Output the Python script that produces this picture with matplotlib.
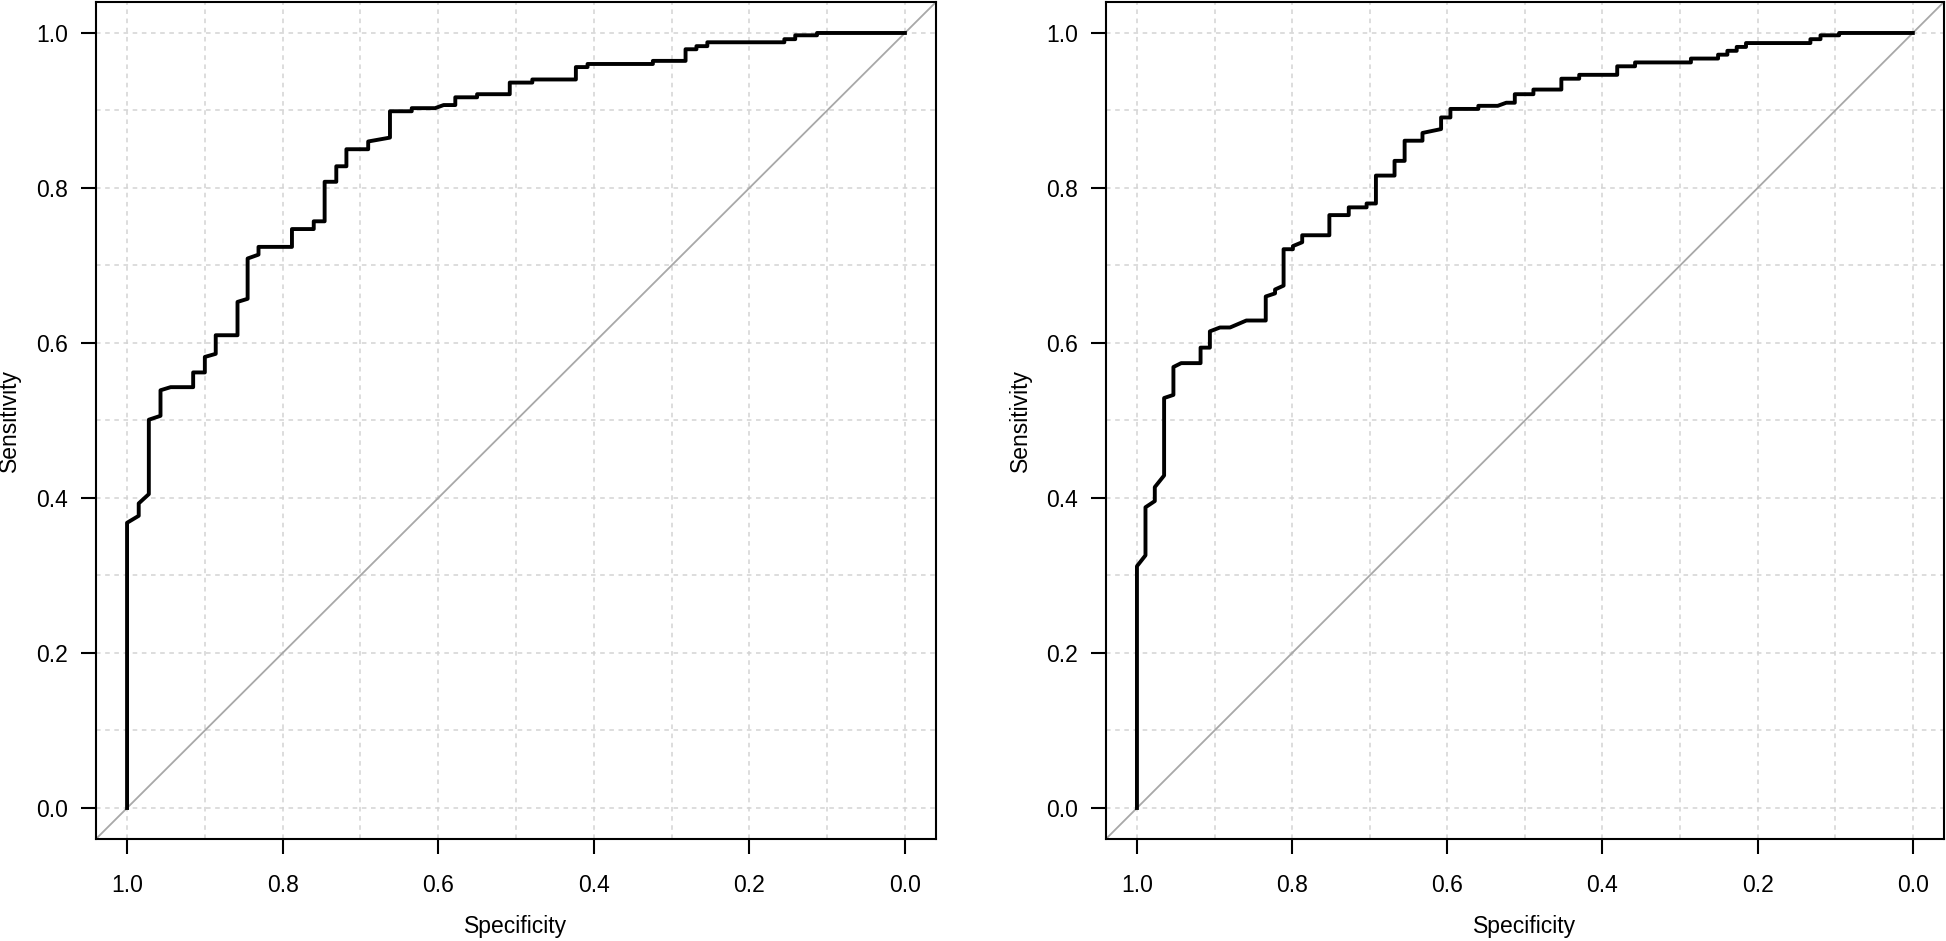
import matplotlib
matplotlib.use("Agg")
import matplotlib.pyplot as plt
import numpy as np

plt.rcParams['font.family'] = ['Liberation Sans', 'DejaVu Sans']

# ----- ROC curve vertices (specificity, sensitivity) -----
spec_left = [1.0, 1.0, 0.985, 0.985, 0.972, 0.972, 0.957, 0.957, 0.944, 0.915,
             0.915, 0.900, 0.900, 0.886, 0.886, 0.858, 0.858, 0.845, 0.845, 0.831,
             0.831, 0.788, 0.788, 0.760, 0.760, 0.746, 0.746, 0.731, 0.731, 0.718,
             0.718, 0.690, 0.690, 0.662, 0.662, 0.634, 0.634, 0.604, 0.593, 0.578,
             0.578, 0.550, 0.550, 0.508, 0.508, 0.479, 0.479, 0.423, 0.423, 0.408,
             0.408, 0.324, 0.324, 0.282, 0.282, 0.268, 0.268, 0.254, 0.254, 0.155,
             0.155, 0.141, 0.141, 0.113, 0.113, 0.0]
sens_left = [0.0, 0.368, 0.377, 0.393, 0.405, 0.501, 0.506, 0.539, 0.543, 0.543,
             0.562, 0.562, 0.582, 0.586, 0.610, 0.610, 0.653, 0.657, 0.709, 0.714,
             0.724, 0.724, 0.747, 0.747, 0.757, 0.757, 0.808, 0.808, 0.828, 0.828,
             0.850, 0.850, 0.860, 0.865, 0.899, 0.899, 0.903, 0.903, 0.907, 0.907,
             0.917, 0.917, 0.921, 0.921, 0.936, 0.936, 0.940, 0.940, 0.956, 0.956,
             0.960, 0.960, 0.964, 0.964, 0.979, 0.979, 0.983, 0.983, 0.988, 0.988,
             0.992, 0.992, 0.997, 0.997, 1.0, 1.0]

spec_right = [1.0, 1.0, 0.989, 0.989, 0.977, 0.977, 0.965, 0.965, 0.953, 0.953,
              0.943, 0.918, 0.918, 0.906, 0.906, 0.893, 0.880, 0.859, 0.834, 0.834,
              0.822, 0.822, 0.811, 0.811, 0.799, 0.799, 0.787, 0.787, 0.752, 0.752,
              0.727, 0.727, 0.704, 0.704, 0.692, 0.692, 0.668, 0.668, 0.655, 0.655,
              0.632, 0.632, 0.608, 0.608, 0.596, 0.596, 0.560, 0.560, 0.535, 0.524,
              0.513, 0.513, 0.489, 0.489, 0.453, 0.453, 0.430, 0.430, 0.381, 0.381,
              0.358, 0.358, 0.286, 0.286, 0.251, 0.251, 0.239, 0.239, 0.227, 0.227,
              0.215, 0.215, 0.132, 0.132, 0.119, 0.119, 0.095, 0.095, 0.0]
sens_right = [0.0, 0.312, 0.326, 0.388, 0.396, 0.414, 0.429, 0.529, 0.533, 0.569,
              0.574, 0.574, 0.594, 0.594, 0.615, 0.620, 0.620, 0.629, 0.629, 0.660,
              0.664, 0.669, 0.674, 0.721, 0.721, 0.725, 0.730, 0.739, 0.739, 0.765,
              0.765, 0.775, 0.775, 0.780, 0.780, 0.816, 0.816, 0.835, 0.835, 0.861,
              0.861, 0.871, 0.876, 0.891, 0.891, 0.902, 0.902, 0.906, 0.906, 0.910,
              0.910, 0.921, 0.921, 0.927, 0.927, 0.941, 0.941, 0.946, 0.946, 0.957,
              0.957, 0.962, 0.962, 0.967, 0.967, 0.972, 0.972, 0.977, 0.977, 0.982,
              0.982, 0.987, 0.987, 0.992, 0.992, 0.997, 0.997, 1.0, 1.0]

ticks = [0.0, 0.2, 0.4, 0.6, 0.8, 1.0]
grid_steps = np.round(np.arange(0, 1.01, 0.1), 1)

fig = plt.figure(figsize=(19.46, 9.41), dpi=100)
ax_left = fig.add_axes([0.0493, 0.1084, 0.4317, 0.8895])
ax_right = fig.add_axes([0.5683, 0.1084, 0.4306, 0.8895])

for ax, sp, se in [(ax_left, spec_left, sens_left), (ax_right, spec_right, sens_right)]:
    ax.set_xlim(1.04, -0.04)
    ax.set_ylim(-0.04, 1.04)

    # dotted grid every 0.1
    for g in grid_steps:
        ax.axvline(g, color="#d3d3d3", lw=1.1, ls=(0, (3, 3)), zorder=1)
        ax.axhline(g, color="#d3d3d3", lw=1.1, ls=(0, (3, 3)), zorder=1)

    # chance line
    ax.axline((1, 0), (0, 1), color="#a8a8a8", lw=1.3, zorder=2)

    # ROC curve
    ax.plot(sp, se, color="black", lw=2.8, zorder=3)

    ax.set_xticks(ticks)
    ax.set_yticks(ticks)
    ax.set_xticklabels([f"{t:.1f}" for t in ticks])
    ax.set_yticklabels([f"{t:.1f}" for t in ticks])
    ax.tick_params(axis="both", labelsize=16.5, length=11, width=1.5, color="black")
    ax.tick_params(axis="x", pad=14)
    ax.tick_params(axis="y", pad=9)

    for s in ax.spines.values():
        s.set_linewidth(1.5)
        s.set_color("black")

    ax.text(0.5, -0.104, "Specificity", transform=ax.transAxes,
            ha="center", va="center", fontsize=16.5)
    ax.text(-0.1025, 0.5, "Sensitivity", transform=ax.transAxes,
            ha="center", va="center", rotation=90, fontsize=16.5)

fig.savefig("out.png", dpi=100)
